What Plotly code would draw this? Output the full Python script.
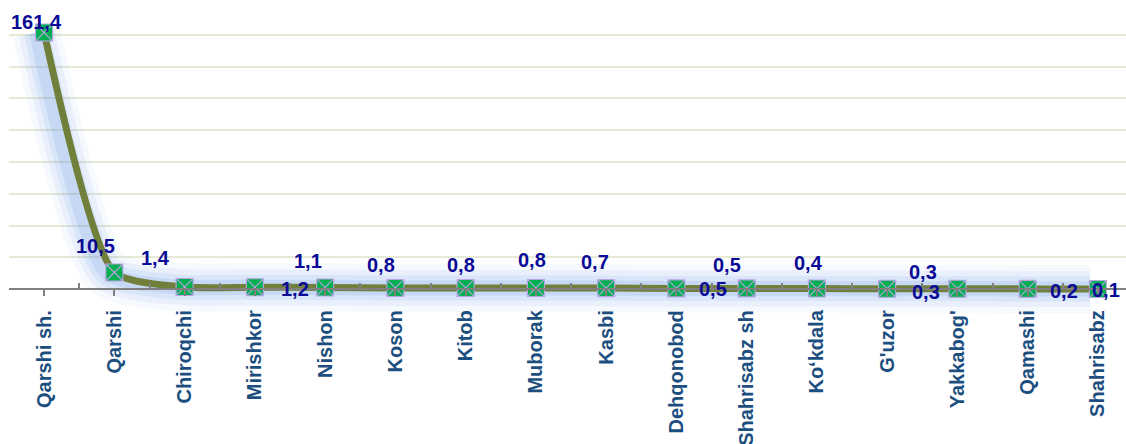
import plotly.graph_objects as go

# data
districts = ["Qarshi sh.", "Qarshi", "Chiroqchi", "Mirishkor", "Nishon", "Koson",
             "Kitob", "Muborak", "Kasbi", "Dehqonobod", "Shahrisabz sh", "Ko\u2018kdala",
             "G'uzor", "Yakkabog'", "Qamashi", "Shahrisabz"]
values = [161.4, 10.5, 1.4, 1.2, 1.1, 0.8, 0.8, 0.8, 0.7, 0.5, 0.5, 0.4, 0.3, 0.3, 0.2, 0.1]

# label nudges (px) so the values do not sit on the line
label_shift = [(-8, 11), (-19, 27), (-29, 29), (40, -2), (-17, 26), (-14, 23),
               (-5, 23), (-4, 28), (-11, 26), (37, -1), (-20, 23), (-8, 26),
               (36, 17), (-31, -3), (36, -2), (8, -1)]

LINE = "#70803a"
FONT = "Liberation Sans, Arial, sans-serif"
XR = [-0.5, 15.4]
GLOW_DX = 0.11  # shadow sits a little to the left of the line
SMOOTH = 0.6

fig = go.Figure()

# soft blue shadow (main x axis, drawn first = bottom layer)
for w, a in [(48, 0.06), (36, 0.08), (25, 0.11), (15, 0.14)]:
    fig.add_trace(go.Scatter(
        x=districts, y=values, mode="lines",
        line=dict(color=f"rgba(95,145,225,{a})", width=w, shape="spline", smoothing=SMOOTH),
        hoverinfo="skip", showlegend=False
    ))

# the line itself on an overlaying axis so it sits on top of the shadow
fig.add_trace(go.Scatter(
    x=districts, y=values, mode="lines+markers", xaxis="x2",
    line=dict(color=LINE, width=7, shape="spline", smoothing=SMOOTH),
    marker=dict(symbol="square-x", size=17, color="#00b050",
                line=dict(color="#bba3e6", width=1.1)),
    showlegend=False, cliponaxis=False
))
# invisible carrier for the between-category tick axis
fig.add_trace(go.Scatter(
    x=districts, y=values, mode="markers", xaxis="x3",
    marker=dict(opacity=0), hoverinfo="skip", showlegend=False
))

for name, v, (dx, dy) in zip(districts, values, label_shift):
    fig.add_annotation(
        x=name, y=v, xref="x2", yref="y", text=f"{v:.1f}".replace(".", ","),
        showarrow=False, xshift=dx, yshift=dy,
        font=dict(family=FONT, size=20, color="#0a0a96", weight="bold"),
        xanchor="center", yanchor="middle"
    )

fig.update_layout(
    width=1126, height=444,
    margin=dict(l=9, r=0, t=3, b=123),
    plot_bgcolor="white", paper_bgcolor="white",
    xaxis=dict(
        type="category", categoryorder="array", categoryarray=districts,
        range=[XR[0] + GLOW_DX, XR[1] + GLOW_DX], automargin=False,
        showticklabels=False, ticks="", showline=False, showgrid=False, zeroline=False
    ),
    xaxis2=dict(
        type="category", categoryorder="array", categoryarray=districts,
        range=XR, overlaying="x", anchor="free", position=0.1, side="bottom",
        automargin=False,
        showline=True, linecolor="#808080", linewidth=2,
        ticks="outside", ticklen=6, tickcolor="#808080", tickwidth=1.5,
        tickangle=-90, ticklabelstandoff=6,
        tickfont=dict(family=FONT, size=20, color="#1c4f80", weight="bold"),
        showgrid=False, zeroline=False
    ),
    xaxis3=dict(
        type="category", categoryorder="array", categoryarray=districts,
        range=XR, overlaying="x", anchor="free", position=0.1,
        side="bottom", tickson="boundaries", automargin=False,
        ticks="inside", ticklen=6, tickcolor="#808080", tickwidth=1.5,
        showticklabels=False, showline=False, showgrid=False, zeroline=False
    ),
    yaxis=dict(
        range=[-20, 180], dtick=20, showticklabels=False, automargin=False,
        showgrid=True, gridcolor="#e6e9d6", gridwidth=1.5,
        zeroline=False, showline=False
    )
)

# page has a default 8px body margin; drop it so the figure fills the window
fig.write_html("out.html", config={"displayModeBar": False},
               post_script="document.body.style.margin='0';")
